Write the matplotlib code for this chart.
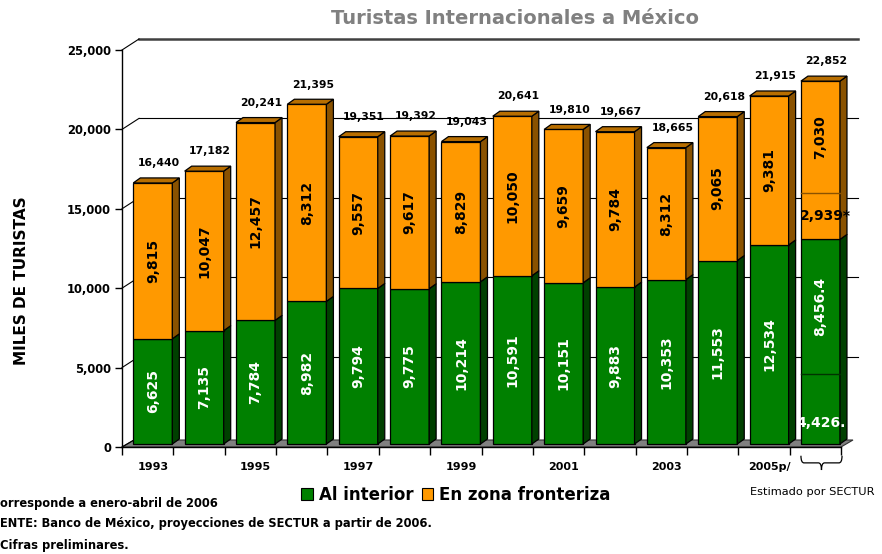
import matplotlib
matplotlib.use('Agg')
import matplotlib.pyplot as plt
from matplotlib.patches import Polygon, PathPatch, Patch
from matplotlib.path import Path
import matplotlib.transforms as mtransforms

# ---------------- data ----------------
years = ['1993', '1994', '1995', '1996', '1997', '1998', '1999', '2000',
         '2001', '2002', '2003', '2004', '2005', '2006']
tick_labels = ['1993', '', '1995', '', '1997', '', '1999', '', '2001', '',
               '2003', '', '2005p/', '']
interior = [6625, 7135, 7784, 8982, 9794, 9775, 10214, 10591, 10151, 9883,
            10353, 11553, 12534]
# label values printed on the orange segments (1996 label in source reads 8,312)
frontera_labels = [9815, 10047, 12457, 8312, 9557, 9617, 8829, 10050, 9659,
                   9784, 8312, 9065, 9381]
totals = [16440, 17182, 20241, 21395, 19351, 19392, 19043, 20641, 19810,
          19667, 18665, 20618, 21915, 22852]
interior_2006 = [4426, 8456.4]
frontera_2006 = [2939, 7030]
labels_2006 = ['4,426.', '8,456.4', '2,939*', '7,030']
yticks = [0, 5000, 10000, 15000, 20000, 25000]

title = 'Turistas Internacionales a México'
ylabel = 'MILES DE TURISTAS'
legend_labels = ['Al interior', 'En zona fronteriza']
notes = ['orresponde a enero-abril de 2006',
         'ENTE: Banco de México, proyecciones de SECTUR a partir de 2006.',
         'Cifras preliminares.']
estimado = 'Estimado por SECTUR'

# ---------------- style ----------------
GREEN = '#008000'
GREEN_SIDE = '#004000'
ORANGE = '#FF9900'
ORANGE_SIDE = '#8A5200'
ORANGE_TOP = '#B86E00'
FONT = 'DejaVu Sans'

W, H = 882, 554
fig = plt.figure(figsize=(W / 100, H / 100), dpi=100)
ax_l, ax_r, ax_t, ax_b = 122, 841, 50, 447
ax = fig.add_axes([ax_l / W, (H - ax_b) / H, (ax_r - ax_l) / W, (ax_b - ax_t) / H])
XMIN, XMAX = -0.6, 13.4
YMAX = 25000
ax.set_xlim(XMIN, XMAX)
ax.set_ylim(0, YMAX)

px_x = (ax_r - ax_l) / (XMAX - XMIN)
px_y = (ax_b - ax_t) / YMAX
def dx(p):
    return p / px_x
def dy(p):
    return p / px_y

wall_dx, wall_dy = dx(17), dy(11)
floor_dx, floor_dy = dx(12), dy(7)
bar_dx, bar_dy = dx(7), dy(5)
shift = dy(3)
bw = 0.76

# back wall gridlines + left wall diagonals
for v in yticks[1:]:
    top = v == yticks[-1]
    ax.plot([XMIN + wall_dx, XMAX + wall_dx], [v + wall_dy, v + wall_dy],
            color='#404040' if top else 'black', lw=1.8 if top else 0.8,
            zorder=1, clip_on=False)
for v in yticks[1:]:
    ax.plot([XMIN, XMIN + wall_dx], [v, v + wall_dy], color='black', lw=0.8,
            zorder=1, clip_on=False)
ax.plot([XMIN, XMIN + floor_dx], [0, floor_dy], color='black', lw=0.8,
        zorder=1.6, clip_on=False)

# floor
floor = Polygon([(XMIN, 0), (XMAX, 0), (XMAX + floor_dx, floor_dy),
                 (XMIN + floor_dx, floor_dy)], closed=True, facecolor='#808080',
                edgecolor='#333333', lw=0.8, zorder=1.5, clip_on=False)
ax.add_patch(floor)


def draw_segment(x, b, t, face, side, top=None):
    ax.bar(x, t - b, bottom=b + shift, width=bw, color=face, edgecolor='black',
           lw=0.9, zorder=3)
    xr = x + bw / 2
    ax.add_patch(Polygon([(xr, b + shift), (xr + bar_dx, b + shift + bar_dy),
                          (xr + bar_dx, t + shift + bar_dy), (xr, t + shift)],
                         closed=True, facecolor=side, edgecolor='black', lw=0.9,
                         zorder=3, clip_on=False))
    if top is not None:
        xl = x - bw / 2
        ax.add_patch(Polygon([(xl, t + shift), (xl + bar_dx, t + shift + bar_dy),
                              (xr + bar_dx, t + shift + bar_dy), (xr, t + shift)],
                             closed=True, facecolor=top, edgecolor='black', lw=0.9,
                             zorder=3, clip_on=False))


lab_kw = dict(fontsize=10, fontweight='bold', family=FONT, ha='center',
              va='center', zorder=10)

for i in range(len(interior)):
    g = interior[i]
    tot = totals[i]
    draw_segment(i, 0, g, GREEN, GREEN_SIDE)
    draw_segment(i, g, tot, ORANGE, ORANGE_SIDE, ORANGE_TOP)
    ax.text(i, g / 2 + shift, f'{g:,}', rotation=90, color='white', **lab_kw)
    ax.text(i, (g + tot) / 2 + shift, f'{frontera_labels[i]:,}', rotation=90,
            color='black', **lab_kw)

# last (estimated) bar
i = len(interior)
g1, g2 = interior_2006
o1, o2 = frontera_2006
bounds = [0, g1, g1 + g2, g1 + g2 + o1, g1 + g2 + o1 + o2]
draw_segment(i, bounds[0], bounds[2], GREEN, GREEN_SIDE)
draw_segment(i, bounds[2], bounds[4], ORANGE, ORANGE_SIDE, ORANGE_TOP)
ax.plot([i - bw / 2, i + bw / 2], [bounds[1] + shift] * 2, color='#003300',
        lw=1.0, zorder=4)
ax.plot([i - bw / 2, i + bw / 2], [bounds[3] + shift] * 2, color='#8A5200',
        lw=1.0, zorder=4)
ax.text(i + 0.02, bounds[0] + 0.3 * g1 + shift, labels_2006[0], color='white', **lab_kw)
ax.text(i, (bounds[1] + bounds[2]) / 2 + shift, labels_2006[1], rotation=90,
        color='white', **lab_kw)
ax.text(i + 0.1, (bounds[2] + bounds[3]) / 2 + shift, labels_2006[2],
        color='black', **lab_kw)
ax.text(i, (bounds[3] + bounds[4]) / 2 + shift, labels_2006[3], rotation=90,
        color='black', **lab_kw)

# totals
for j, tot in enumerate(totals):
    ax.annotate(f'{tot:,}', xy=(j + dx(6), tot + shift + bar_dy),
                xytext=(0, 7), textcoords='offset points', ha='center',
                va='bottom', fontsize=7.8, fontweight='bold', family=FONT,
                zorder=10, annotation_clip=False)

# axes styling
for s in ['top', 'right']:
    ax.spines[s].set_visible(False)
ax.spines['left'].set_linewidth(1.0)
ax.spines['bottom'].set_linewidth(1.0)
ax.spines['left'].set_zorder(2)
ax.spines['bottom'].set_zorder(2)
ax.set_yticks(yticks)
ax.set_yticklabels([f'{v:,}' for v in yticks], fontsize=8.3, fontweight='bold',
                   family=FONT)
ax.tick_params(axis='y', direction='out', length=5, width=1, pad=3)
ax.set_xticks(range(len(years)))
ax.set_xticklabels(tick_labels, fontsize=8, fontweight='bold', family=FONT)
ax.set_xticks([XMIN + k for k in range(len(years) + 1)], minor=True)
ax.tick_params(axis='x', which='major', length=0, pad=11)
ax.tick_params(axis='x', which='minor', direction='out', length=6, width=1)
ax.patch.set_visible(False)

ax.set_ylabel(ylabel, fontsize=11, fontweight='bold', family=FONT)
ax.yaxis.set_label_coords(-0.13, 0.42)

# brace under last bar
trans = mtransforms.blended_transform_factory(ax.transData, ax.transAxes)
xa, xb = i - 0.38, i + 0.42
xm = (xa + xb) / 2
y0, y1, y2 = -0.022, -0.040, -0.058
c = 0.06
verts = [(xa, y0), (xa, y1), (xa + c, y1),
         (xm - c, y1), (xm, y1), (xm, y2),
         (xm, y2), (xm, y1), (xm + c, y1),
         (xb - c, y1), (xb, y1), (xb, y0)]
codes = [Path.MOVETO, Path.CURVE3, Path.CURVE3,
         Path.LINETO, Path.CURVE3, Path.CURVE3,
         Path.MOVETO, Path.CURVE3, Path.CURVE3,
         Path.LINETO, Path.CURVE3, Path.CURVE3]
ax.add_patch(PathPatch(Path(verts, codes), transform=trans, facecolor='none',
                       edgecolor='black', lw=0.9, clip_on=False))

# title, legend, notes
fig.text(515 / W, 1 - 18 / H, title, ha='center', va='center', fontsize=14,
         fontweight='bold', color='#808080', family=FONT)
handles = [Patch(facecolor=GREEN, edgecolor='black', lw=0.8),
           Patch(facecolor=ORANGE, edgecolor='black', lw=0.8)]
fig.legend(handles, legend_labels, loc='center', bbox_to_anchor=(456 / W, 1 - 495 / H),
           ncol=2, frameon=False, prop=dict(weight='bold', size=12, family=FONT),
           handlelength=0.7, handleheight=0.7, handletextpad=0.35,
           columnspacing=0.5, borderaxespad=0, borderpad=0)
fig.text(812 / W, 1 - 492 / H, estimado, ha='center', va='center', fontsize=8.2,
         family=FONT)
for k, (note, yy) in enumerate(zip(notes, [503, 524, 546])):
    fig.text(0 / W, 1 - yy / H, note, ha='left', va='center', fontsize=8.3,
             fontweight='bold', family=FONT)

fig.savefig('out.png', dpi=100)
